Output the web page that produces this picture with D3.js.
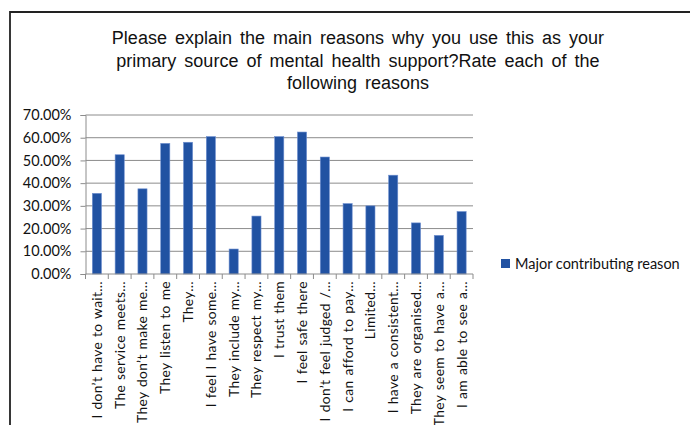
<!DOCTYPE html>
<html>
<head>
<meta charset="utf-8">
<script src="https://cdn.jsdelivr.net/npm/d3@7"></script>
<style>
  html, body { margin: 0; padding: 0; background: #fff; }
  svg { display: block; }
</style>
</head>
<body>
<svg id="chart" width="690" height="425"></svg>
<script>
// Survey reasons (truncated as shown on the axis)
const categories = [
  "I don’t have to wait…",
  "The service meets…",
  "They don’t make me…",
  "They listen to me",
  "They…",
  "I feel I have some…",
  "They include my…",
  "They respect my…",
  "I trust them",
  "I feel safe there",
  "I don’t feel judged /…",
  "I can afford to pay…",
  "Limited…",
  "I have a consistent…",
  "They are organised…",
  "They seem to have a…",
  "I am able to see a…"
];

// Share answering "Major contributing reason" (%)
const majorReason = [35.5, 52.5, 37.5, 57.5, 58, 60.5, 11, 25.5, 60.5, 62.5, 51.5, 31, 30, 43.5, 22.5, 17, 27.5];

const yTicks = [0, 10, 20, 30, 40, 50, 60, 70];
const seriesName = "Major contributing reason";
const titleLines = [
  "Please explain the main reasons why you use this as your",
  "primary source of mental health support?Rate each of the",
  "following reasons"
];

const svg = d3.select("#chart");
const plot = { left: 85.5, right: 473, top: 115, bottom: 274 };
const barColor = "#2152A2";
const labelFont = "Lato, 'Open Sans', sans-serif";

// frame lines along the top and left edge
svg.append("path")
  .attr("d", "M10,425 L10,12 L690,12")
  .attr("fill", "none")
  .attr("stroke", "#222")
  .attr("stroke-width", 1.8);

// title
svg.append("g")
  .selectAll("text")
  .data(titleLines)
  .join("text")
  .attr("x", 358)
  .attr("y", (d, i) => 44 + i * 22.5)
  .attr("text-anchor", "middle")
  .attr("font-family", "'Liberation Sans', Arial, sans-serif")
  .attr("font-size", 18)
  .attr("word-spacing", 3)
  .attr("fill", "#111")
  .text(d => d);

const x = d3.scaleBand()
  .domain(categories)
  .range([plot.left, plot.right])
  .paddingInner(0.6)
  .paddingOuter(0.3);

const y = d3.scaleLinear()
  .domain([0, 70])
  .range([plot.bottom, plot.top]);

// horizontal gridlines
svg.append("g")
  .selectAll("line")
  .data(yTicks.filter(t => t > 0))
  .join("line")
  .attr("x1", plot.left)
  .attr("x2", plot.right)
  .attr("y1", d => y(d))
  .attr("y2", d => y(d))
  .attr("stroke", "#8c8c8c")
  .attr("stroke-width", 1);

// y axis
const yAxis = svg.append("g")
  .attr("transform", `translate(${plot.left},0)`)
  .call(d3.axisLeft(y).tickValues(yTicks).tickSize(5).tickPadding(9)
    .tickFormat(d => d.toFixed(2) + "%"));
yAxis.select(".domain").attr("stroke", "#8c8c8c");
yAxis.selectAll(".tick line").attr("stroke", "#8c8c8c");
yAxis.selectAll(".tick text")
  .attr("font-family", labelFont)
  .attr("font-size", 14.5)
  .attr("fill", "#111");

// bars
svg.append("g")
  .selectAll("rect")
  .data(majorReason)
  .join("rect")
  .attr("x", (d, i) => x(categories[i]))
  .attr("y", d => y(d))
  .attr("width", x.bandwidth())
  .attr("height", d => y(0) - y(d))
  .attr("fill", barColor)
  .attr("stroke", "#6e8fd0")
  .attr("stroke-width", 0.6);

// x axis with boundary ticks between categories
const bounds = d3.range(categories.length + 1).map(i => plot.left + i * (plot.right - plot.left) / categories.length);
const xg = svg.append("g");
xg.append("line")
  .attr("x1", plot.left).attr("x2", plot.right)
  .attr("y1", plot.bottom).attr("y2", plot.bottom)
  .attr("stroke", "#8c8c8c");
xg.selectAll("line.tk")
  .data(bounds)
  .join("line")
  .attr("class", "tk")
  .attr("x1", d => d).attr("x2", d => d)
  .attr("y1", plot.bottom).attr("y2", plot.bottom + 5)
  .attr("stroke", "#8c8c8c");

// rotated category labels
xg.selectAll("text")
  .data(categories)
  .join("text")
  .attr("transform", d => `translate(${x(d) + x.bandwidth() / 2 + 5},${plot.bottom + 7}) rotate(-90)`)
  .attr("text-anchor", "end")
  .attr("font-family", labelFont)
  .attr("font-size", 13.8)
  .attr("letter-spacing", 0.35)
  .attr("word-spacing", 1)
  .attr("fill", "#111")
  .text(d => d);

// legend
const legend = svg.append("g").attr("transform", "translate(501,259)");
legend.append("rect")
  .attr("width", 9).attr("height", 9)
  .attr("fill", barColor);
legend.append("text")
  .attr("x", 14).attr("y", 10)
  .attr("font-family", labelFont)
  .attr("font-size", 14.5)
  .attr("fill", "#111")
  .text(seriesName);
</script>
</body>
</html>
